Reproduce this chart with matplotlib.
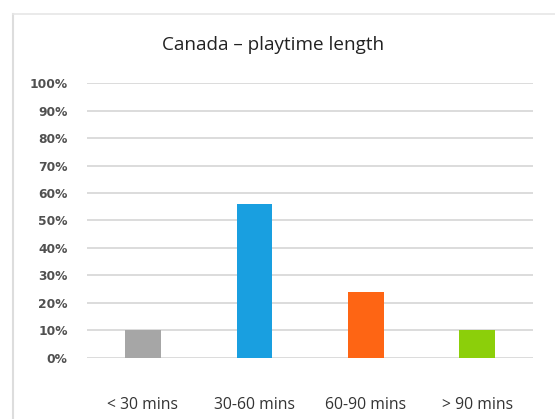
import numpy as np
import matplotlib.pyplot as plt
from matplotlib.lines import Line2D

# data
categories = ['< 30 mins', '30-60 mins', '60-90 mins', '> 90 mins']
shares = [0.10, 0.56, 0.24, 0.10]
bar_colors = ['#a6a6a6', '#199fe0', '#fe6514', '#8ccf0a']
y_ticks = np.arange(0, 1.01, 0.1)
y_labels = ['%d%%' % round(v * 100) for v in y_ticks]

fig = plt.figure(figsize=(5.55, 4.19), dpi=100)
ax = fig.add_axes([0.157, 0.1456, 0.8034, 0.6563])

x = np.arange(len(categories))
ax.bar(x, shares, width=0.32, color=bar_colors, zorder=3)

ax.set_xlim(-0.5, 3.5)
ax.set_ylim(0, 1)
ax.set_yticks(y_ticks)
ax.set_yticklabels(y_labels, fontsize=8.8, fontweight='bold', color='#505050', family='DejaVu Sans')
ax.set_xticks(x)
ax.set_xticklabels(categories, fontsize=11.3, color='#333333', family='Open Sans')
ax.tick_params(axis='y', length=0, pad=14)
ax.tick_params(axis='x', length=0, pad=28)
ax.yaxis.grid(True, color='#d9d9d9', linewidth=1.3, zorder=0)
for s in ax.spines.values():
    s.set_visible(False)

fig.text(0.492, 0.893, 'Canada \u2013 playtime length', ha='center', va='center',
         fontsize=13.6, color='#222222', family='Open Sans')

# faint outer frame of the chart area (left and top edges)
fig.add_artist(Line2D([0.024, 0.024], [0.0, 0.967], color='#dddddd', lw=1.5))
fig.add_artist(Line2D([0.024, 1.0], [0.967, 0.967], color='#e6e6e6', lw=1.2))

fig.savefig('out.png', dpi=100)
